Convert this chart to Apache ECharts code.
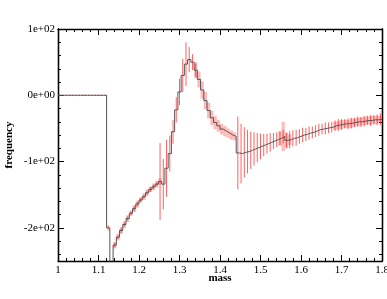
<!DOCTYPE html>
<html>
<head>
<meta charset="utf-8">
<script src="https://cdn.jsdelivr.net/npm/echarts@6/dist/echarts.min.js"></script>
<style>
  html, body { margin: 0; padding: 0; background: #fff; }
  #chart { width: 387px; height: 299px; }
</style>
</head>
<body>
<div id="chart"></div>
<script>
// histogram bins of width 0.008 starting at mass = 1
var binStart = 1.0;
var binWidth = 0.008;

var frequency = [
  0, 0, 0, 0, 0, 0, 0, 0, 0, 0, 0, 0, 0, 0, 0,
  -200, -255,
  -226, -214, -204, -195, -186, -178, -171, -164, -158, -153, -147, -142, -138, -134, -130,
  -134, -110, -88, -55, -22, 5, 30, 47, 54, 50, 38, 24, 8, -8, -23, -34, -41, -46, -51, -54, -57, -60, -62,
  -87, -88, -86, -85, -83, -81, -79, -77, -75, -73, -71, -69, -67, -65, -62, -68, -67, -65, -64, -62,
  -60, -59, -57, -56, -54, -52, -51, -50, -49, -48, -46, -45, -44, -43, -43, -42, -41, -40, -40, -39,
  -38, -38, -37, -37, -36
];

// red error bars (half length)
var errRed = [
  1, 1, 1, 1, 1, 1, 1, 1, 1, 1, 1, 1, 1, 1, 1,
  4, 4,
  3, 3, 4, 3, 3, 3, 4, 3, 3, 3, 3, 4, 3, 3, 58,
  38, 43, 27, 18, 19, 20, 25, 33, 19, 12, 10, 0, 0, 0, 0, 0, 0, 0, 0, 0, 0, 0, 0,
  55, 45, 38, 33, 28, 25, 22, 19, 17, 15, 14, 12, 11, 10,
  10, 11, 13, 12, 12, 11, 11, 10, 10, 9, 9, 9, 8, 9, 8, 8, 8, 9, 8, 7, 8, 8, 7, 8, 7, 8, 7, 8, 7, 8, 9
];

// pink error boxes (half height)
var errPink = [
  0, 0, 0, 0, 0, 0, 0, 0, 0, 0, 0, 0, 0, 0, 0, 0,
  6, 5, 5, 5, 5, 5, 4, 5, 5, 4, 5, 5, 4, 5, 5, 5,
  0, 0, 0, 0, 0, 0, 0, 0, 0, 0,
  12, 12, 13, 13, 12, 11, 10, 9, 8, 8, 7, 7, 6,
  0, 0, 0, 0, 0, 0, 0, 0, 0, 0, 0, 0, 0,
  11, 22, 12, 8,
  0, 0, 0, 0, 0, 0, 0, 0, 0, 0, 0, 0, 0,
  6, 6, 7, 6, 6, 7, 6, 6, 7, 6, 6, 7, 6, 6, 5
];

var yMajor = [-200, -100, 0, 100];
var yMinor = [-240, -220, -180, -160, -140, -120, -80, -60, -40, -20, 20, 40, 60, 80];
var Y_MIN = -250, Y_MAX = 100;

var serif = 'Liberation Serif, Times New Roman, serif';

var stepData = frequency.map(function (v, i) { return [binStart + binWidth * i, v]; });
stepData.push([binStart + binWidth * frequency.length, frequency[frequency.length - 1]]);

function errData(err) {
  var out = [];
  frequency.forEach(function (v, i) {
    if (err[i] > 0) out.push([binStart + binWidth * (i + 0.5), v, err[i]]);
  });
  return out;
}

function renderBar(params, api) {
  var x = api.value(0);
  var lo = Math.max(api.value(1) - api.value(2), Y_MIN);
  var hi = Math.min(api.value(1) + api.value(2), Y_MAX);
  if (hi <= lo) return;
  var p1 = api.coord([x, lo]);
  var p2 = api.coord([x, hi]);
  return {
    type: 'line',
    shape: { x1: p1[0], y1: p1[1], x2: p2[0], y2: p2[1] },
    style: { stroke: 'rgba(255,30,30,0.7)', lineWidth: 1 }
  };
}

function renderBox(params, api) {
  var x = api.value(0);
  var lo = Math.max(api.value(1) - api.value(2), Y_MIN);
  var hi = Math.min(api.value(1) + api.value(2), Y_MAX);
  if (hi <= lo) return;
  var w = api.size([binWidth, 0])[0];
  var pLo = api.coord([x, lo]);
  var pHi = api.coord([x, hi]);
  return {
    type: 'rect',
    shape: { x: pLo[0] - w / 2, y: pHi[1], width: w, height: pLo[1] - pHi[1] },
    style: { fill: 'rgba(255,130,130,0.55)' }
  };
}

var axisLine = { show: true, onZero: false, lineStyle: { color: '#000', width: 1.3 } };

function xAxis(pos, labels) {
  return {
    type: 'value', position: pos, min: 1, max: 1.8, interval: 0.1,
    axisLine: axisLine,
    axisTick: { show: true, inside: true, length: 6, lineStyle: { color: '#000' } },
    minorTick: { show: true, splitNumber: 5, length: 3, lineStyle: { color: '#000' } },
    splitLine: { show: false },
    axisLabel: { show: labels, color: '#000', fontFamily: serif, fontSize: 11, margin: 4 },
    name: labels ? 'mass' : '',
    nameLocation: 'middle', nameGap: 12, nameMoveOverlap: false,
    nameTextStyle: { color: '#000', fontFamily: serif, fontWeight: 'bold', fontSize: 11 }
  };
}

function yAxis(pos, ticks, len, labels) {
  return {
    type: 'value', position: pos, min: Y_MIN, max: Y_MAX,
    axisLine: axisLine,
    axisTick: { show: true, inside: true, length: len, customValues: ticks, lineStyle: { color: '#000' } },
    splitLine: { show: false },
    axisLabel: {
      show: labels, customValues: yMajor, color: '#000', fontFamily: serif, fontSize: 11, margin: 3,
      formatter: function (v) { return v === 0 ? '0e+00' : (v / 100) + 'e+02'; }
    },
    name: labels ? 'frequency' : '',
    nameLocation: 'middle', nameGap: 43, nameRotate: 90, nameMoveOverlap: false,
    nameTextStyle: { color: '#000', fontFamily: serif, fontWeight: 'bold', fontSize: 11 }
  };
}

var chart = echarts.init(document.getElementById('chart'));
chart.setOption({
  animation: false,
  grid: { left: 58, right: 5, top: 29, bottom: 38, outerBoundsMode: 'none', containLabel: false },
  xAxis: [xAxis('bottom', true), xAxis('top', false)],
  yAxis: [
    yAxis('left', yMajor, 6, true),
    yAxis('left', yMinor, 3, false),
    yAxis('right', yMajor, 6, false),
    yAxis('right', yMinor, 3, false)
  ],
  series: [
    { type: 'custom', renderItem: renderBox, data: errData(errPink), z: 1 },
    { type: 'custom', renderItem: renderBar, data: errData(errRed), z: 2 },
    {
      type: 'line', step: 'end', data: stepData, symbol: 'none', z: 3,
      lineStyle: { color: '#555', width: 1 }
    }
  ]
});
</script>
</body>
</html>
